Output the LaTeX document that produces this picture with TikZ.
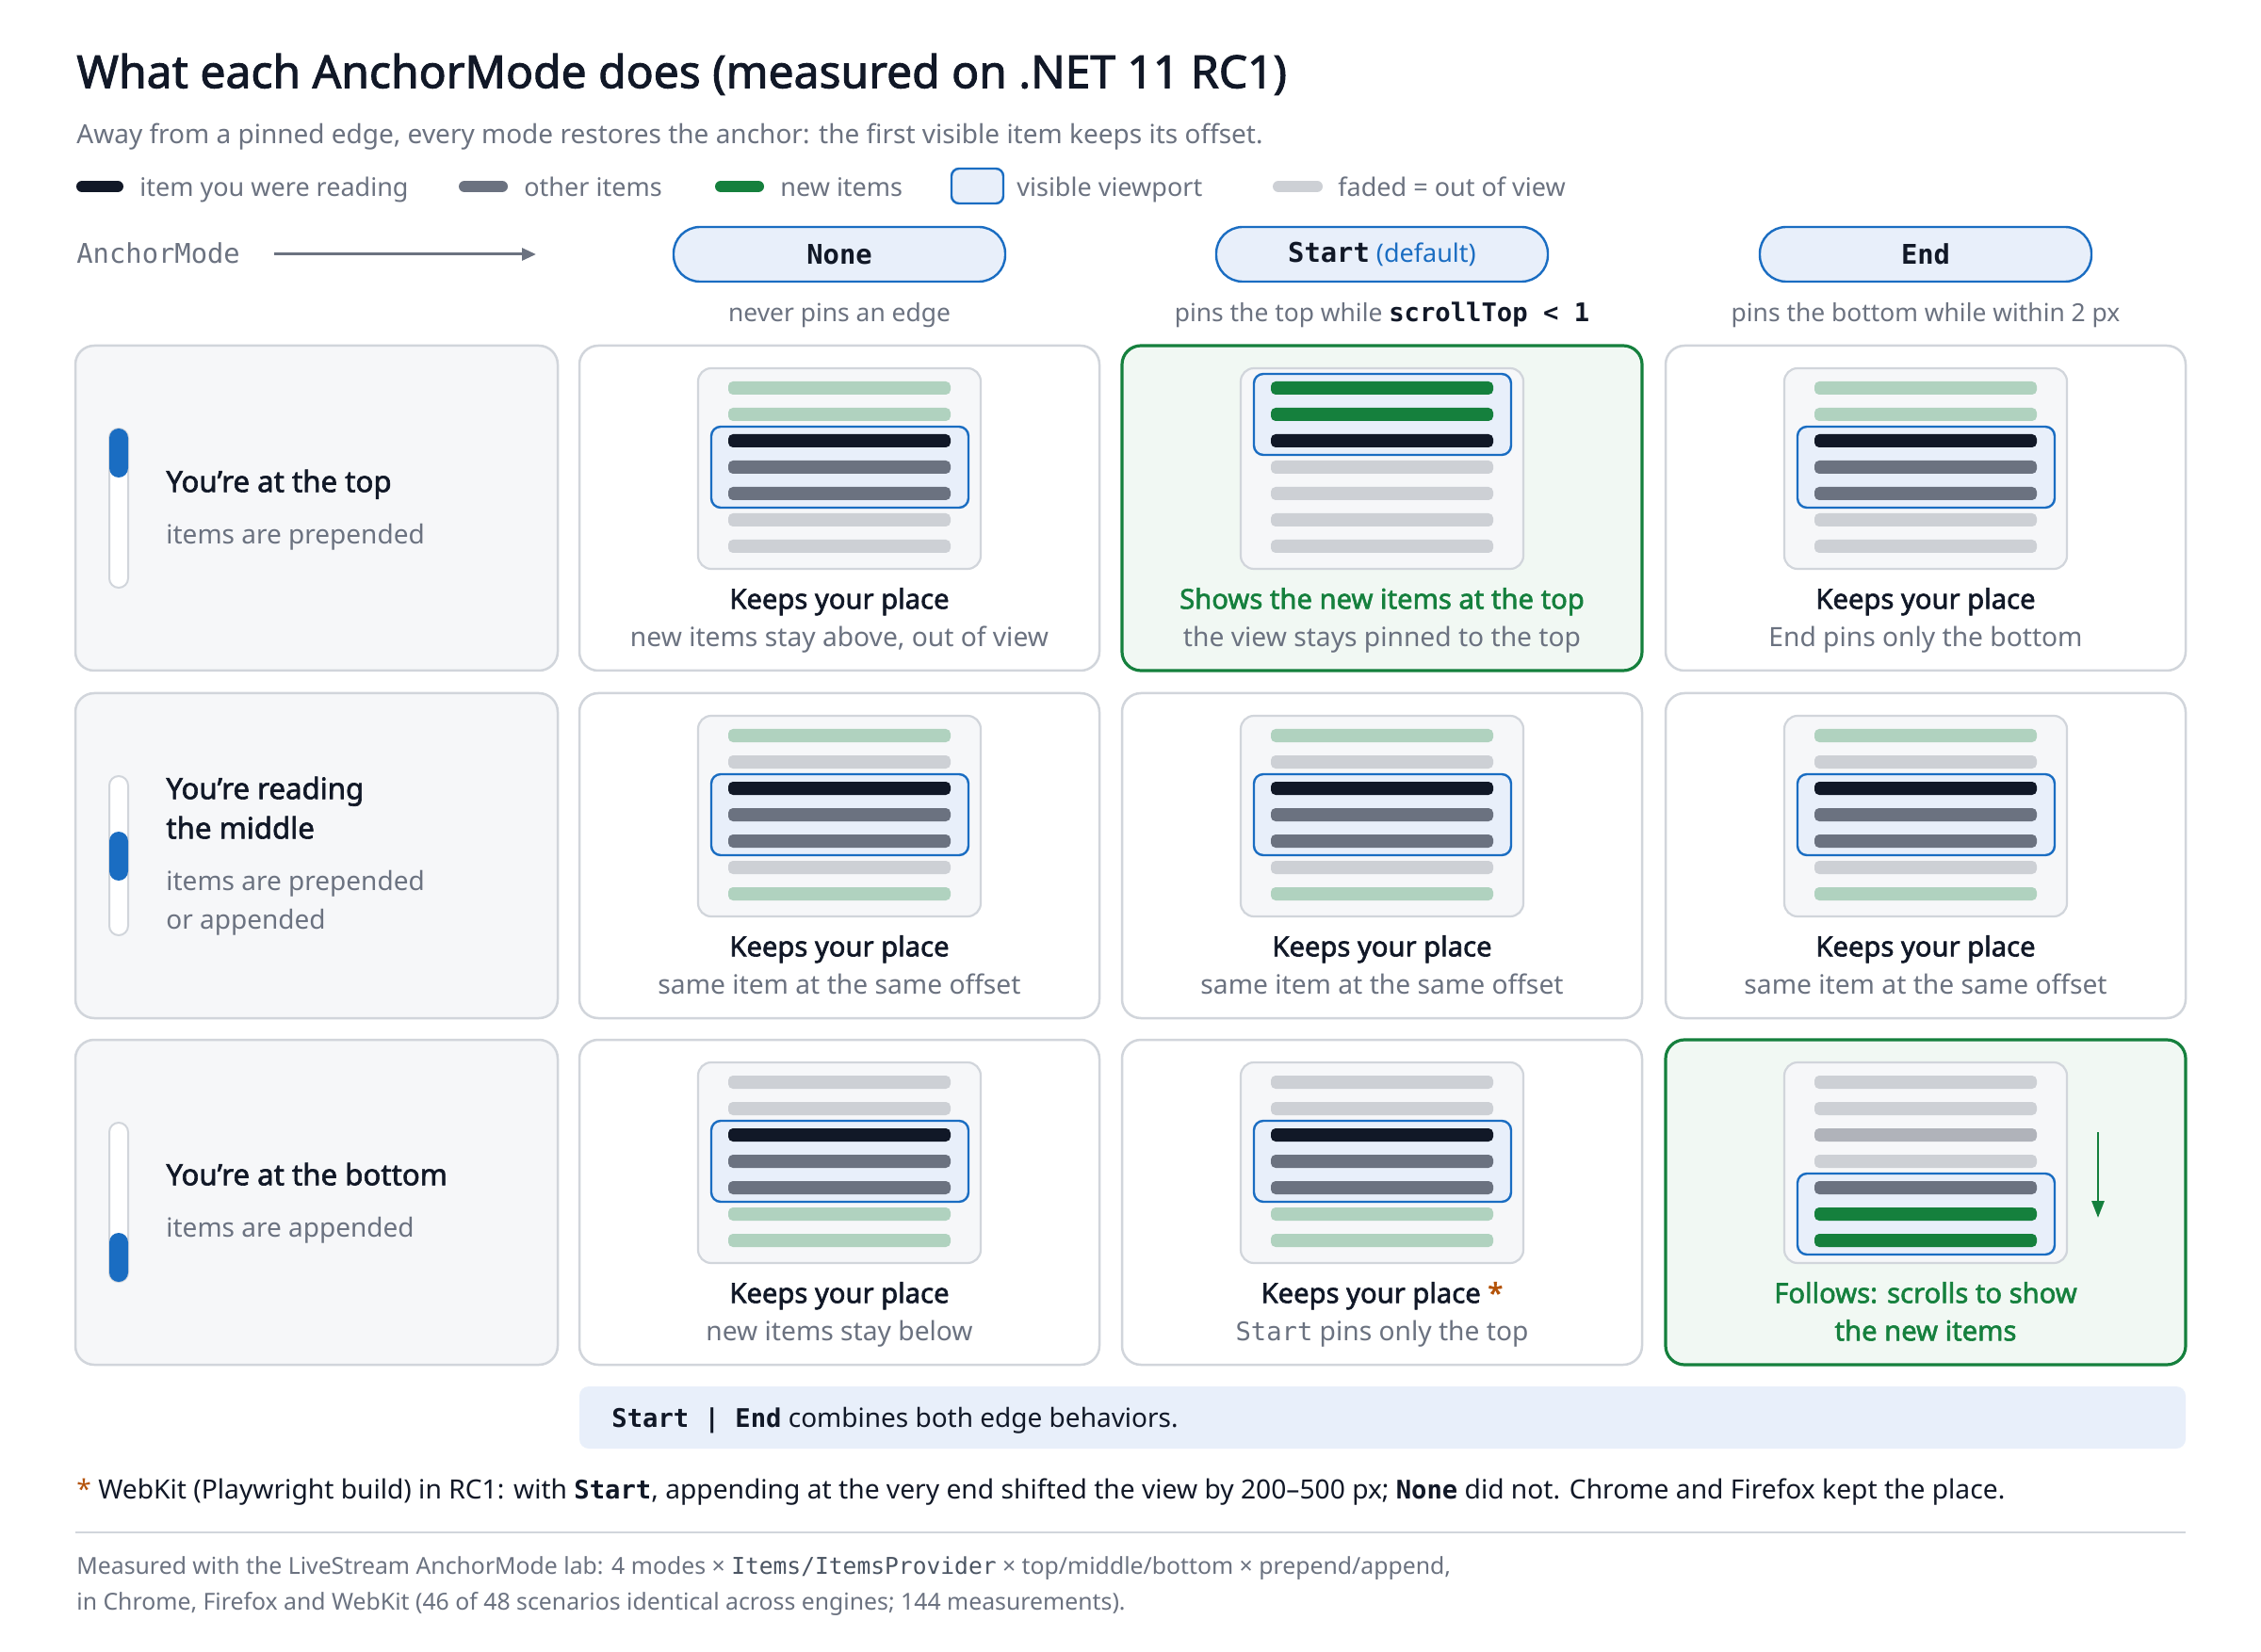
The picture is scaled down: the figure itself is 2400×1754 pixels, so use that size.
\documentclass[tikz,border=0pt]{standalone}
\usepackage{fontspec}
\setmainfont{Noto Sans}[BoldFont={Noto Sans}, BoldFeatures={FakeBold=2}]
\setmonofont{DejaVu Sans Mono}
\usetikzlibrary{arrows.meta}
\definecolor{ink}{HTML}{111827}
\definecolor{muted}{HTML}{6B7280}
\definecolor{faded}{HTML}{CDD0D5}
\definecolor{newg}{HTML}{15803D}
\definecolor{newl}{HTML}{B0D2BF}
\definecolor{midf}{HTML}{B0B3BA}
\definecolor{vpblue}{HTML}{1A6DC2}
\definecolor{vpfill}{HTML}{E8EFFA}
\definecolor{cardline}{HTML}{D1D5DB}
\definecolor{panel}{HTML}{F6F7F9}
\definecolor{goodfill}{HTML}{F1F8F3}
\definecolor{amber}{HTML}{B45309}
\definecolor{footgray}{HTML}{4B5563}
\newcommand\fsz[1]{\fontsize{#1pt}{#1pt}\selectfont}
\newcommand\apos{\symbol{39}}
\tikzset{
  lbl/.style={inner sep=0pt, anchor=mid west},
  ctr/.style={inner sep=0pt, anchor=mid},
  cardbox/.style={draw=cardline, line width=1.25pt, fill=white, rounded corners=10pt},
  labelbox/.style={draw=cardline, line width=1.25pt, fill=panel, rounded corners=10pt},
  goodbox/.style={draw=newg, line width=1.6pt, fill=goodfill, rounded corners=10pt},
  minibox/.style={draw=cardline, line width=1.1pt, fill=panel, rounded corners=7pt},
  vpbox/.style={draw=vpblue, line width=1.2pt, fill=vpfill, rounded corners=5pt},
  pill/.style={draw=vpblue, line width=1.2pt, fill=vpfill, rounded corners=14pt,
    minimum width=176pt, minimum height=29pt, inner sep=0pt},
  legbar/.style={line width=6pt, line cap=round},
  legtxt/.style={lbl, font=\fsz{13.5}, text=muted},
  cardtitle/.style={ctr, font=\fsz{14.6}\bfseries, text=ink},
  cardsub/.style={ctr, font=\fsz{14.1}, text=muted},
  rowtitle/.style={lbl, font=\fsz{15.6}\bfseries, text=ink},
  rowsub/.style={lbl, font=\fsz{14}, text=muted},
  pilltxt/.style={ctr, font=\fsz{13.2}, text=muted},
}
% #1 centre x, #2 card top, #3 bar colours, #4 first, #5 last bar in view
\newcommand\miniview[5]{%
  \draw[minibox] (#1-150,#2+24) rectangle (#1+150,#2+237);
  \draw[vpbox] (#1-136,#2+45+28*#4-28-15) rectangle (#1+137,#2+45+28*#5-28+15);
  \foreach \c [count=\i] in {#3} {
    \fill[\c, rounded corners=2.5pt] (#1-118,#2+45+28*\i-28-7) rectangle (#1+118,#2+45+28*\i-28+7);
  }
}
% #1 card top, #2 thumb offset from top
\newcommand\scroller[2]{%
  \draw[draw=cardline, line width=1pt, fill=white, rounded corners=5pt] (116,#1+88) rectangle (136,#1+257);
  \fill[vpblue, rounded corners=5pt] (116,#1+#2) rectangle (136,#1+#2+52);
}
\begin{document}
\begin{tikzpicture}[x=0.5pt,y=-0.5pt]
\useasboundingbox (0,0) rectangle (2400,1754);
\fill[white] (0,0) rectangle (2400,1754);

% title
\node[lbl, font=\fsz{24}\bfseries, text=ink] (title) at (81,88) {What each AnchorMode does (measured on .NET 11 RC1)};
\node[lbl, font=\fsz{14}, text=muted] (subtitle) at (81,147) {Away from a pinned edge, every mode restores the anchor: the first visible item keeps its offset.};

% legend
\draw[legbar, ink] (87,198) -- (125,198);
\node[legtxt] (lg1) at (148,203) {item you were reading};
\draw[legbar, muted] (493,198) -- (533,198);
\node[legtxt] (lg2) at (556,203) {other items};
\draw[legbar, newg] (765,198) -- (805,198);
\node[legtxt] (lg3) at (828,203) {new items};
\draw[vpbox, rounded corners=4pt] (1010,179) rectangle (1065,216);
\node[legtxt] (lg4) at (1079,203) {visible viewport};
\draw[legbar, faded] (1357,198) -- (1398,198);
\node[legtxt] (lg5) at (1420,203) {faded = out of view};

% AnchorMode header
\node[lbl, font=\fsz{14.4}\ttfamily, text=muted] (am) at (81,274) {AnchorMode};
\coordinate (amA) at (291,270);
\coordinate (amB) at (569,270);
\draw[muted, line width=1.5pt, -{Triangle[length=7.5pt,width=6.5pt]}] (amA) -- (amB);

\node[pill] (pNone) at (891,270) {\fsz{14.4}\ttfamily\bfseries\color{ink}None};
\node[pill] (pStart) at (1467,270) {\fsz{14.4}\ttfamily\bfseries\color{ink}Start{\rmfamily\mdseries\fsz{13.5}\ \color{vpblue}(default)}};
\node[pill] (pEnd) at (2044,270) {\fsz{14.4}\ttfamily\bfseries\color{ink}End};
\node[pilltxt] (sNone) at (891,336) {never pins an edge};
\node[pilltxt] (sStart) at (1467,336) {pins the top while {\ttfamily\bfseries\fsz{13.6}\color{ink}scrollTop < 1}};
\node[pilltxt] (sEnd) at (2044,336) {pins the bottom while within 2 px};

% ---------- row 1 ----------
\draw[labelbox] (80,367) rectangle ++(512,345);
\scroller{367}{88}
\node[rowtitle] (r1t) at (176,517) {You\apos re at the top};
\node[rowsub] (r1s) at (176,572) {items are prepended};

\draw[cardbox] (615,367) rectangle ++(552,345);
\miniview{891}{367}{newl,newl,ink,muted,muted,faded,faded}{3}{5}
\node[cardtitle] (c11t) at (891,641) {Keeps your place};
\node[cardsub] (c11s) at (891,681) {new items stay above, out of view};

\draw[goodbox] (1191,367) rectangle ++(552,345);
\miniview{1467}{367}{newg,newg,ink,faded,faded,faded,faded}{1}{3}
\node[cardtitle, text=newg] (c12t) at (1467,641) {Shows the new items at the top};
\node[cardsub] (c12s) at (1467,681) {the view stays pinned to the top};

\draw[cardbox] (1768,367) rectangle ++(552,345);
\miniview{2044}{367}{newl,newl,ink,muted,muted,faded,faded}{3}{5}
\node[cardtitle] (c13t) at (2044,641) {Keeps your place};
\node[cardsub] (c13s) at (2044,681) {End pins only the bottom};

% ---------- row 2 ----------
\draw[labelbox] (80,736) rectangle ++(512,345);
\scroller{736}{147}
\node[rowtitle] (r2t) at (176,843) {You\apos re reading};
\node[rowtitle] (r2u) at (176,885) {the middle};
\node[rowsub] (r2s) at (176,940) {items are prepended};
\node[rowsub] (r2v) at (176,981) {or appended};

\draw[cardbox] (615,736) rectangle ++(552,345);
\miniview{891}{736}{newl,faded,ink,muted,muted,faded,newl}{3}{5}
\node[cardtitle] (c21t) at (891,1010) {Keeps your place};
\node[cardsub] (c21s) at (891,1050) {same item at the same offset};

\draw[cardbox] (1191,736) rectangle ++(552,345);
\miniview{1467}{736}{newl,faded,ink,muted,muted,faded,newl}{3}{5}
\node[cardtitle] (c22t) at (1467,1010) {Keeps your place};
\node[cardsub] (c22s) at (1467,1050) {same item at the same offset};

\draw[cardbox] (1768,736) rectangle ++(552,345);
\miniview{2044}{736}{newl,faded,ink,muted,muted,faded,newl}{3}{5}
\node[cardtitle] (c23t) at (2044,1010) {Keeps your place};
\node[cardsub] (c23s) at (2044,1050) {same item at the same offset};

% ---------- row 3 ----------
\draw[labelbox] (80,1104) rectangle ++(512,345);
\scroller{1104}{205}
\node[rowtitle] (r3t) at (176,1253) {You\apos re at the bottom};
\node[rowsub] (r3s) at (176,1308) {items are appended};

\draw[cardbox] (615,1104) rectangle ++(552,345);
\miniview{891}{1104}{faded,faded,ink,muted,muted,newl,newl}{3}{5}
\node[cardtitle] (c31t) at (891,1378) {Keeps your place};
\node[cardsub] (c31s) at (891,1418) {new items stay below};

\draw[cardbox] (1191,1104) rectangle ++(552,345);
\miniview{1467}{1104}{faded,faded,ink,muted,muted,newl,newl}{3}{5}
\node[cardtitle] (c32t) at (1467,1378) {Keeps your place {\color{amber}*}};
\node[cardsub] (c32s) at (1467,1418) {{\ttfamily\fsz{13.6}Start} pins only the top};

\draw[goodbox] (1768,1104) rectangle ++(552,345);
\miniview{2044}{1104}{faded,faded,midf,faded,muted,newg,newg}{5}{7}
\coordinate (fa) at (2227,1202);
\coordinate (fb) at (2227,1293);
\draw[newg, line width=1.4pt, -{Triangle[length=9pt,width=6.5pt]}] (fa) -- (fb);
\node[cardtitle, text=newg] (c33t) at (2044,1378) {Follows: scrolls to show};
\node[cardtitle, text=newg] (c33u) at (2044,1418) {the new items};

% band
\fill[vpfill, rounded corners=5pt] (615,1472) rectangle (2320,1538);
\node[lbl, font=\fsz{14}, text=ink] (band) at (649,1510) {{\ttfamily\bfseries\fsz{13.6}Start | End} combines both edge behaviors.};

% footnote
\node[lbl, font=\fsz{14.1}, text=ink] (fn) at (81,1586) {{\color{amber}*} WebKit (Playwright build) in RC1: with {\ttfamily\bfseries\fsz{13.6}Start}, appending at the very end shifted the view by 200–500 px; {\ttfamily\bfseries\fsz{13.6}None} did not. Chrome and Firefox kept the place.};

\draw[cardline, line width=1.25pt] (80,1627) -- (2320,1627);

\node[lbl, font=\fsz{12.4}, text=muted] (ft1) at (81,1666) {Measured with the LiveStream AnchorMode lab: 4 modes × {\ttfamily\fsz{12.3}\color{footgray}Items/ItemsProvider} × top/middle/bottom × prepend/append,};
\node[lbl, font=\fsz{12.4}, text=muted] (ft2) at (81,1704) {in Chrome, Firefox and WebKit (46 of 48 scenarios identical across engines; 144 measurements).};
\end{tikzpicture}
\end{document}
